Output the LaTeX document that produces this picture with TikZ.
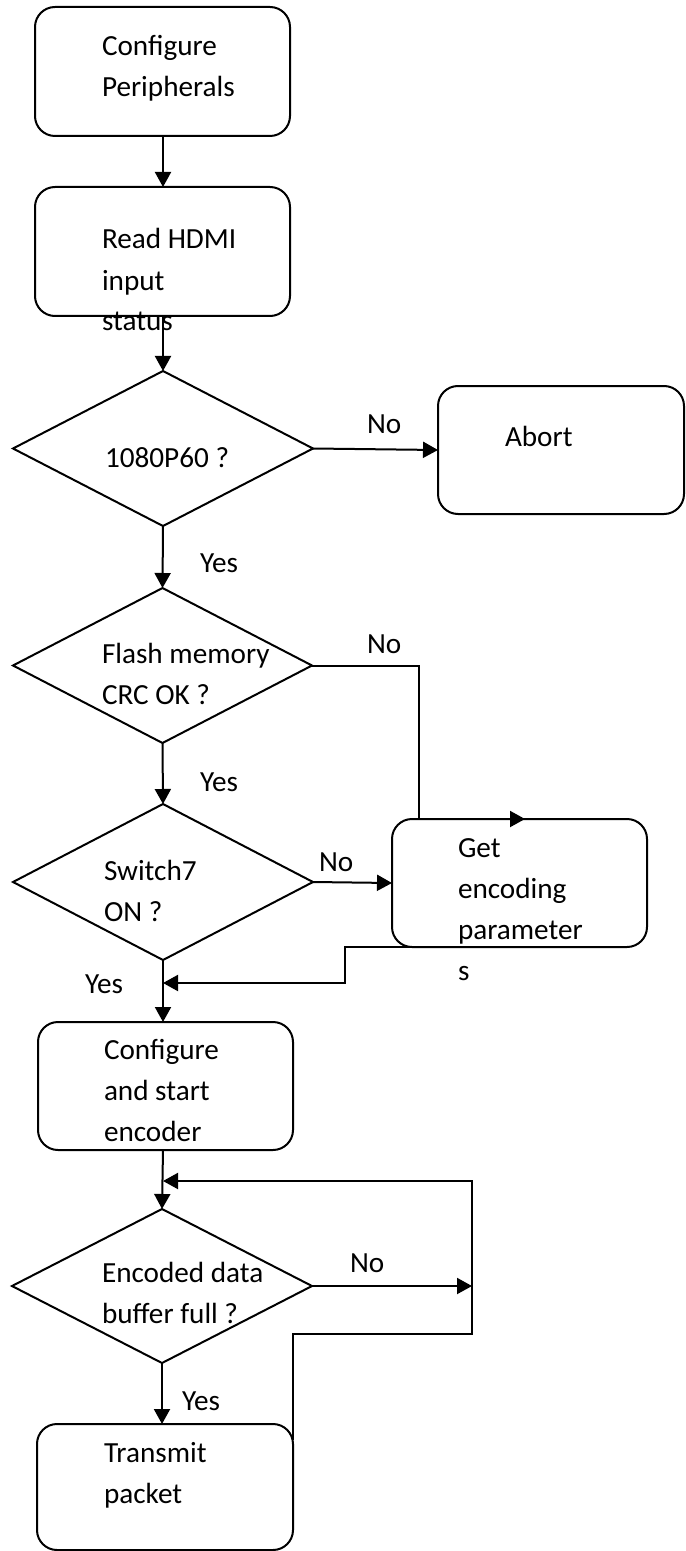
\documentclass[tikz,border=0pt]{standalone}
\usepackage{fontspec}
\setmainfont{Carlito}
\usetikzlibrary{arrows.meta,shapes.geometric,calc}
\tikzset{
  proc/.style={draw, line width=1pt, rounded corners=10pt, inner sep=0pt, outer sep=0pt},
  dec/.style={draw, diamond, line width=1pt, inner sep=0pt, outer sep=0pt},
  txt/.style={anchor=base west, inner sep=0pt, outer sep=0pt, align=left, font=\fontsize{14.6pt}{20.5pt}\selectfont},
  conn/.style={line width=1pt},
  arr/.style={line width=1pt, -{Triangle[length=7.5pt,width=8pt]}}
}
\begin{document}
\begin{tikzpicture}[x=0.5pt,y=-0.5pt]
\useasboundingbox (0,0) rectangle (685,1551);
% shapes
\node[proc, minimum width=127.5pt, minimum height=64.5pt] (b1) at (162.5,71.5) {};
\node[proc, minimum width=127.5pt, minimum height=64.5pt] (b2) at (162.5,251.5) {};
\node[dec, minimum width=150pt, minimum height=77.5pt] (d1) at (163,448.5) {};
\node[proc, minimum width=123pt, minimum height=64pt] (ab) at (561,450) {};
\node[dec, minimum width=149.5pt, minimum height=77.5pt] (d2) at (162.5,665.5) {};
\node[dec, minimum width=150pt, minimum height=78pt] (d3) at (163,882) {};
\node[proc, minimum width=127.5pt, minimum height=64pt] (get) at (519.5,883) {};
\node[proc, minimum width=127.5pt, minimum height=64pt] (b3) at (165.5,1086) {};
\node[dec, minimum width=150pt, minimum height=77pt] (d4) at (162,1286) {};
\node[proc, minimum width=128pt, minimum height=63pt] (b5) at (165,1487) {};
% texts (anchored at the baseline of their last line)
\node[txt] (t1) at (102,97) {Configure\\Peripherals};
\node[txt] (t2) at (102,331) {Read HDMI\\input\\status};
\node[txt] (t3) at (105,467) {1080P60 ?};
\node[txt] (t4) at (505,446) {Abort};
\node[txt] (t5) at (102,704) {Flash memory\\CRC OK ?};
\node[txt] (t6) at (104,921) {Switch7\\ON ?};
\node[txt] (t7) at (458,980) {Get\\encoding\\parameter\\s};
\node[txt] (t8) at (104,1141) {Configure\\and start\\encoder};
\node[txt] (t9) at (102,1323) {Encoded data\\buffer full ?};
\node[txt] (t10) at (104,1503) {Transmit\\packet};
% labels
\node[txt] (l1) at (367,433) {No};
\node[txt] (l2) at (200,572) {Yes};
\node[txt] (l3) at (367,653) {No};
\node[txt] (l4) at (200,791) {Yes};
\node[txt] (l5) at (319,871) {No};
\node[txt] (l6) at (85,993) {Yes};
\node[txt] (l7) at (350,1272) {No};
\node[txt] (l8) at (182,1410) {Yes};
% helper coordinates
\coordinate (gtip) at (525,819);
\coordinate (m3) at (163,983);
\coordinate (m4) at (163,1181);
\coordinate (lp) at (472,1286);
% connectors
\draw[arr] (b1.south -| 163,0) -- (b2.north -| 163,0);
\draw[arr] (b2.south -| 163,0) -- (d1.north);
\draw[arr] (d1.east) -- (ab.west);
\draw[arr] (d1.south) -- (d2.north);
\draw[arr] (d2.east) -| ($(get.north west)+(27,0)$) -- (gtip);
\draw[arr] (d2.south) -- (d3.north);
\draw[arr] (d3.east) -- (get.west);
\draw[arr] ($(get.south west)+(22,0)$) -- ($(get.south west)+(-47,0)$) |- (m3);
\draw[arr] (d3.south) -- (d3.south |- b3.north);
\draw[arr] (d3.south |- b3.south) -- (d4.north);
\draw[arr] (d4.east) -- (lp);
\draw[arr] ($(b5.north east)+(0,16)$) -- ($(b5.north east)+(0,-90)$) -| ($(lp)+(0,-105)$) |- (m4);
\draw[arr] (d4.south) -- (d4.south |- b5.north);
\end{tikzpicture}
\end{document}
